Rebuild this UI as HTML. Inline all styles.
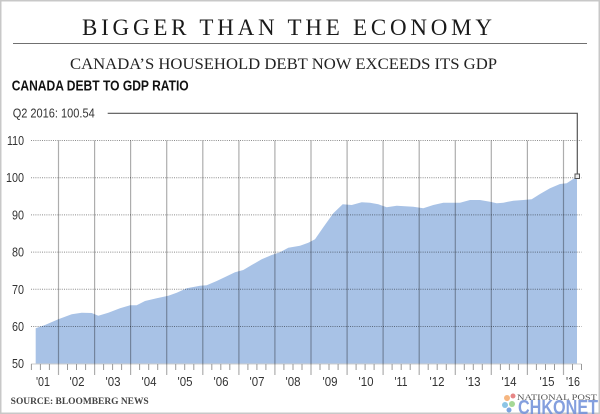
<!DOCTYPE html>
<html><head><meta charset="utf-8"><style>
html,body{margin:0;padding:0;background:#fff;}
svg{display:block;}
</style></head><body>
<svg width="600" height="414" viewBox="0 0 600 414" xmlns="http://www.w3.org/2000/svg">
<rect x="0" y="0" width="600" height="414" fill="#fff"/>
<rect x="0.75" y="0.75" width="598.5" height="412.5" fill="none" stroke="#c8c8c8" stroke-width="1.5"/>

<text x="82" y="35" font-family="Liberation Serif, serif" font-size="23" fill="#1a1a1a" textLength="410" lengthAdjust="spacing">BIGGER THAN THE ECONOMY</text>
<line x1="13" y1="43.5" x2="587" y2="43.5" stroke="#707070" stroke-width="1"/>
<text x="70" y="69" font-family="Liberation Serif, serif" font-size="16" fill="#222" textLength="427" lengthAdjust="spacingAndGlyphs">CANADA’S HOUSEHOLD DEBT NOW EXCEEDS ITS GDP</text>
<text x="11.7" y="90.7" font-family="Liberation Sans, sans-serif" font-weight="bold" font-size="15" fill="#111" textLength="177" lengthAdjust="spacingAndGlyphs">CANADA DEBT TO GDP RATIO</text>
<text x="12.7" y="117.3" font-family="Liberation Sans, sans-serif" font-size="13" fill="#333" textLength="82" lengthAdjust="spacingAndGlyphs">Q2 2016: 100.54</text>

<!-- area -->
<path fill="#a8c2e6" d="M35.7,328.3 L45,325 L58.3,319.3 L71.7,314.3 L81.7,312.7 L91.7,313 L98.3,315.7 L108.3,312.7 L120,308.3 L130,305.3 L136.7,305.3 L145,301 L156.7,298.3 L168.3,295.7 L176.7,292.7 L186.7,288.3 L200,285.7 L206.7,285.3 L216.7,281 L226.7,276.3 L235,272.3 L243.3,270 L251.7,265 L261.7,259.3 L271.7,255 L280,252.3 L288.3,247.7 L300,245.7 L308.3,242.7 L315,239.3 L323.3,227.3 L333.3,213.3 L342.7,204.3 L351.7,205 L361.7,202.3 L370,202.7 L378.3,204.3 L386.7,207.3 L396.7,205.7 L413.3,206.7 L423.3,208.3 L433.3,205 L443.3,202.7 L460,202.7 L470,200 L480,200 L490,201.7 L496.7,203.3 L503.3,202.7 L513.3,200.7 L523.3,200 L531.7,199.3 L540,194 L550,188.3 L560,184 L566.7,183.3 L577,176.5 L577,364 L35.7,364 Z"/>

<!-- horizontal dotted gridlines -->
<g stroke="#000" stroke-opacity="0.45" stroke-width="1" stroke-dasharray="1,1.2">
<line x1="31" y1="140.5" x2="581.5" y2="140.5"/>
<line x1="31" y1="177.7" x2="581.5" y2="177.7"/>
<line x1="31" y1="214.9" x2="581.5" y2="214.9"/>
<line x1="31" y1="252.1" x2="581.5" y2="252.1"/>
<line x1="31" y1="289.3" x2="581.5" y2="289.3"/>
<line x1="31" y1="326.5" x2="581.5" y2="326.5"/>
</g>
<line x1="31" y1="364" x2="581.5" y2="364" stroke="#ccc" stroke-width="1"/>

<!-- vertical year lines -->
<g stroke="#000" stroke-opacity="0.32" stroke-width="1.2">
<line x1="58.5" y1="140.5" x2="58.5" y2="375"/>
<line x1="94.6" y1="140.5" x2="94.6" y2="375"/>
<line x1="130.6" y1="140.5" x2="130.6" y2="375"/>
<line x1="166.7" y1="140.5" x2="166.7" y2="375"/>
<line x1="202.8" y1="140.5" x2="202.8" y2="375"/>
<line x1="238.9" y1="140.5" x2="238.9" y2="375"/>
<line x1="274.9" y1="140.5" x2="274.9" y2="375"/>
<line x1="311" y1="140.5" x2="311" y2="375"/>
<line x1="347.1" y1="140.5" x2="347.1" y2="375"/>
<line x1="383.1" y1="140.5" x2="383.1" y2="375"/>
<line x1="419.2" y1="140.5" x2="419.2" y2="375"/>
<line x1="455.3" y1="140.5" x2="455.3" y2="375"/>
<line x1="491.3" y1="140.5" x2="491.3" y2="375"/>
<line x1="527.4" y1="140.5" x2="527.4" y2="375"/>
<line x1="563.5" y1="140.5" x2="563.5" y2="375"/>
</g>

<!-- minor ticks -->
<g stroke="#999" stroke-width="1" id="ticks">
<line x1="31.4" y1="364" x2="31.4" y2="370"/><line x1="40.4" y1="364" x2="40.4" y2="370"/><line x1="49.4" y1="364" x2="49.4" y2="370"/>
<line x1="67.5" y1="364" x2="67.5" y2="370"/><line x1="76.5" y1="364" x2="76.5" y2="370"/><line x1="85.6" y1="364" x2="85.6" y2="370"/>
<line x1="103.6" y1="364" x2="103.6" y2="370"/><line x1="112.6" y1="364" x2="112.6" y2="370"/><line x1="121.6" y1="364" x2="121.6" y2="370"/>
<line x1="139.6" y1="364" x2="139.6" y2="370"/><line x1="148.7" y1="364" x2="148.7" y2="370"/><line x1="157.7" y1="364" x2="157.7" y2="370"/>
<line x1="175.7" y1="364" x2="175.7" y2="370"/><line x1="184.7" y1="364" x2="184.7" y2="370"/><line x1="193.8" y1="364" x2="193.8" y2="370"/>
<line x1="211.8" y1="364" x2="211.8" y2="370"/><line x1="220.8" y1="364" x2="220.8" y2="370"/><line x1="229.8" y1="364" x2="229.8" y2="370"/>
<line x1="247.9" y1="364" x2="247.9" y2="370"/><line x1="256.9" y1="364" x2="256.9" y2="370"/><line x1="265.9" y1="364" x2="265.9" y2="370"/>
<line x1="283.9" y1="364" x2="283.9" y2="370"/><line x1="293" y1="364" x2="293" y2="370"/><line x1="302" y1="364" x2="302" y2="370"/>
<line x1="320" y1="364" x2="320" y2="370"/><line x1="329" y1="364" x2="329" y2="370"/><line x1="338.1" y1="364" x2="338.1" y2="370"/>
<line x1="356.1" y1="364" x2="356.1" y2="370"/><line x1="365.1" y1="364" x2="365.1" y2="370"/><line x1="374.1" y1="364" x2="374.1" y2="370"/>
<line x1="392.1" y1="364" x2="392.1" y2="370"/><line x1="401.2" y1="364" x2="401.2" y2="370"/><line x1="410.2" y1="364" x2="410.2" y2="370"/>
<line x1="428.2" y1="364" x2="428.2" y2="370"/><line x1="437.2" y1="364" x2="437.2" y2="370"/><line x1="446.3" y1="364" x2="446.3" y2="370"/>
<line x1="464.3" y1="364" x2="464.3" y2="370"/><line x1="473.3" y1="364" x2="473.3" y2="370"/><line x1="482.3" y1="364" x2="482.3" y2="370"/>
<line x1="500.4" y1="364" x2="500.4" y2="370"/><line x1="509.4" y1="364" x2="509.4" y2="370"/><line x1="518.4" y1="364" x2="518.4" y2="370"/>
<line x1="536.4" y1="364" x2="536.4" y2="370"/><line x1="545.5" y1="364" x2="545.5" y2="370"/><line x1="554.5" y1="364" x2="554.5" y2="370"/>
<line x1="572.5" y1="364" x2="572.5" y2="370"/><line x1="581.5" y1="364" x2="581.5" y2="370"/>
</g>

<!-- y labels -->
<g font-family="Liberation Sans, sans-serif" font-size="13" fill="#333" text-anchor="end">
<text x="24" y="145" textLength="17" lengthAdjust="spacingAndGlyphs">110</text>
<text x="24" y="182.2" textLength="18" lengthAdjust="spacingAndGlyphs">100</text>
<text x="24" y="219.4" textLength="12" lengthAdjust="spacingAndGlyphs">90</text>
<text x="24" y="256.6" textLength="12" lengthAdjust="spacingAndGlyphs">80</text>
<text x="24" y="293.8" textLength="12" lengthAdjust="spacingAndGlyphs">70</text>
<text x="24" y="331" textLength="12" lengthAdjust="spacingAndGlyphs">60</text>
<text x="24" y="368.2" textLength="12" lengthAdjust="spacingAndGlyphs">50</text>
</g>

<!-- x labels -->
<g font-family="Liberation Sans, sans-serif" font-size="13" fill="#333" text-anchor="middle">
<text x="43" y="386" textLength="14" lengthAdjust="spacingAndGlyphs">'01</text>
<text x="77" y="386" textLength="15" lengthAdjust="spacingAndGlyphs">'02</text>
<text x="113" y="386" textLength="15" lengthAdjust="spacingAndGlyphs">'03</text>
<text x="149" y="386" textLength="15" lengthAdjust="spacingAndGlyphs">'04</text>
<text x="185" y="386" textLength="15" lengthAdjust="spacingAndGlyphs">'05</text>
<text x="221" y="386" textLength="15" lengthAdjust="spacingAndGlyphs">'06</text>
<text x="257" y="386" textLength="15" lengthAdjust="spacingAndGlyphs">'07</text>
<text x="293" y="386" textLength="15" lengthAdjust="spacingAndGlyphs">'08</text>
<text x="330" y="386" textLength="15" lengthAdjust="spacingAndGlyphs">'09</text>
<text x="366" y="386" textLength="15" lengthAdjust="spacingAndGlyphs">'10</text>
<text x="401" y="386" textLength="13" lengthAdjust="spacingAndGlyphs">'11</text>
<text x="437" y="386" textLength="15" lengthAdjust="spacingAndGlyphs">'12</text>
<text x="473" y="386" textLength="15" lengthAdjust="spacingAndGlyphs">'13</text>
<text x="509" y="386" textLength="15" lengthAdjust="spacingAndGlyphs">'14</text>
<text x="547" y="386" textLength="15" lengthAdjust="spacingAndGlyphs">'15</text>
<text x="573" y="386" textLength="14" lengthAdjust="spacingAndGlyphs">'16</text>
</g>

<!-- annotation -->
<polyline points="107.7,113.3 577.3,113.3 577.3,174" fill="none" stroke="#555" stroke-width="1.2"/>
<rect x="575" y="174" width="4.5" height="4.5" fill="#eee" stroke="#555" stroke-width="1"/>

<!-- source -->
<text x="10.7" y="404" font-family="Liberation Serif, serif" font-weight="bold" font-size="9" fill="#444" textLength="138" lengthAdjust="spacingAndGlyphs">SOURCE: BLOOMBERG NEWS</text>

<!-- logo -->
<g>
<circle cx="507" cy="398" r="3" fill="#f4a460" opacity="0.8"/>
<circle cx="513" cy="396" r="2.5" fill="#e06666" opacity="0.8"/>
<circle cx="505" cy="405" r="3" fill="#6fb7e0" opacity="0.8"/>
<circle cx="512" cy="404" r="3" fill="#8fce7a" opacity="0.8"/>
<circle cx="509" cy="410" r="2.5" fill="#5b8fd8" opacity="0.8"/>
<text x="517" y="400" font-family="Liberation Serif, serif" font-size="8" fill="#555" textLength="80" lengthAdjust="spacingAndGlyphs">NATIONAL POST</text>
<text x="518" y="414" font-family="Liberation Sans, sans-serif" font-weight="bold" font-size="20" fill="#6f8fd9" opacity="0.85" textLength="80" lengthAdjust="spacingAndGlyphs">CHKONET</text>
</g>
</svg>
</body></html>
